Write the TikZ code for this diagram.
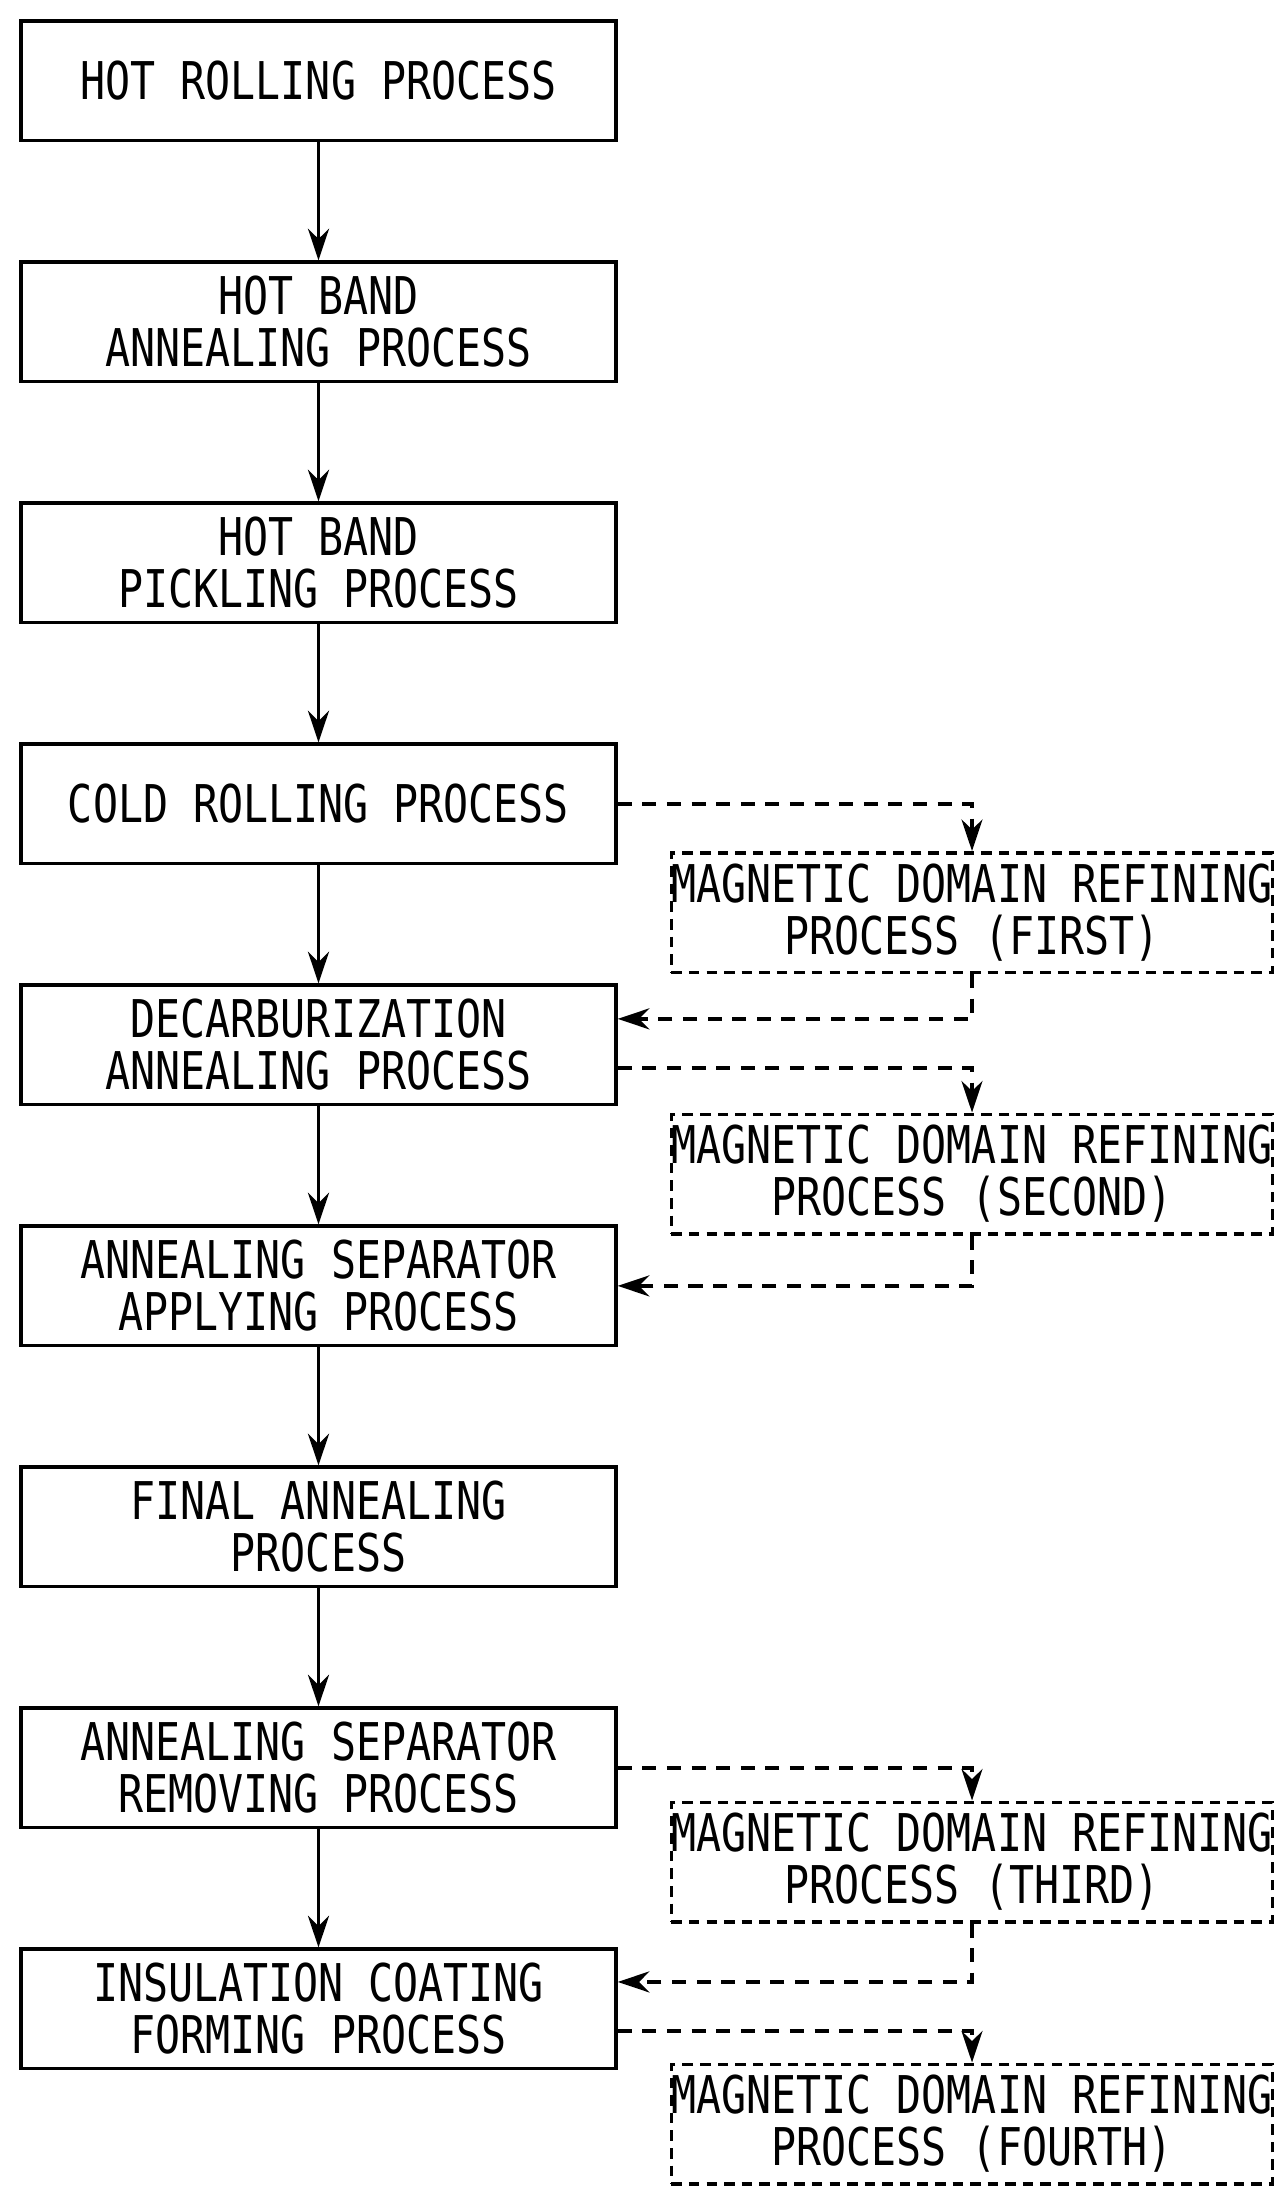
\documentclass[tikz,border=0pt]{standalone}
\usepackage{fontspec}
\setmonofont[FakeStretch=0.8]{DejaVu Sans Mono}
\usetikzlibrary{arrows.meta}
\usetikzlibrary{positioning}

\begin{document}
\begin{tikzpicture}[
    proc/.style={draw,line width=1pt,rectangle,minimum width=5.95cm,minimum height=1.195cm,
      align=center,font=\ttfamily\fontsize{14.8}{14.8}\selectfont,inner sep=0pt},
    refine/.style={proc,dashed,dash pattern=on 3pt off 2pt},
    flow/.style={draw,line width=1pt,-{Stealth[length=9pt,width=6pt]}},
    side/.style={flow,dashed,dash pattern=on 4pt off 3pt},
    node distance=1.18cm]

  \useasboundingbox (0,0) rectangle (12.84,-21.93);

  % main chain
  \node [proc] (hr) at (3.185,-0.808) {HOT ROLLING PROCESS};
  \node [proc,below=of hr] (hba) {HOT BAND\\ANNEALING PROCESS};
  \node [proc,below=of hba] (hbp) {HOT BAND\\PICKLING PROCESS};
  \node [proc,below=of hbp] (cr) {COLD ROLLING PROCESS};
  \node [proc,below=of cr] (dc) {DECARBURIZATION\\ANNEALING PROCESS};
  \node [proc,below=of dc] (sa) {ANNEALING SEPARATOR\\APPLYING PROCESS};
  \node [proc,below=of sa] (fa) {FINAL ANNEALING\\PROCESS};
  \node [proc,below=of fa] (sr) {ANNEALING SEPARATOR\\REMOVING PROCESS};
  \node [proc,below=of sr] (ic) {INSULATION COATING\\FORMING PROCESS};

  % magnetic domain refining
  \node [refine] (m1) at (9.72,-9.125) {MAGNETIC DOMAIN REFINING\\PROCESS (FIRST)};
  \node [refine] (m2) at (9.72,-11.74) {MAGNETIC DOMAIN REFINING\\PROCESS (SECOND)};
  \node [refine] (m3) at (9.72,-18.62) {MAGNETIC DOMAIN REFINING\\PROCESS (THIRD)};
  \node [refine] (m4) at (9.72,-21.24) {MAGNETIC DOMAIN REFINING\\PROCESS (FOURTH)};

  \path [flow]
    (hr) edge (hba)
    (hba) edge (hbp)
    (hbp) edge (cr)
    (cr) edge (dc)
    (dc) edge (sa)
    (sa) edge (fa)
    (fa) edge (sr)
    (sr) edge (ic);

  \draw [side] (cr.east) -| (m1.north);
  \draw [side] (m1.south) |- ([yshift=0.26cm]dc.east);
  \draw [side] ([yshift=-0.23cm]dc.east) -| (m2.north);
  \draw [side] (m2.south) |- (sa.east);
  \draw [side] (sr.east) -| (m3.north);
  \draw [side] (m3.south) |- ([yshift=0.27cm]ic.east);
  \draw [side] ([yshift=-0.22cm]ic.east) -| (m4.north);

\end{tikzpicture}
\end{document}
